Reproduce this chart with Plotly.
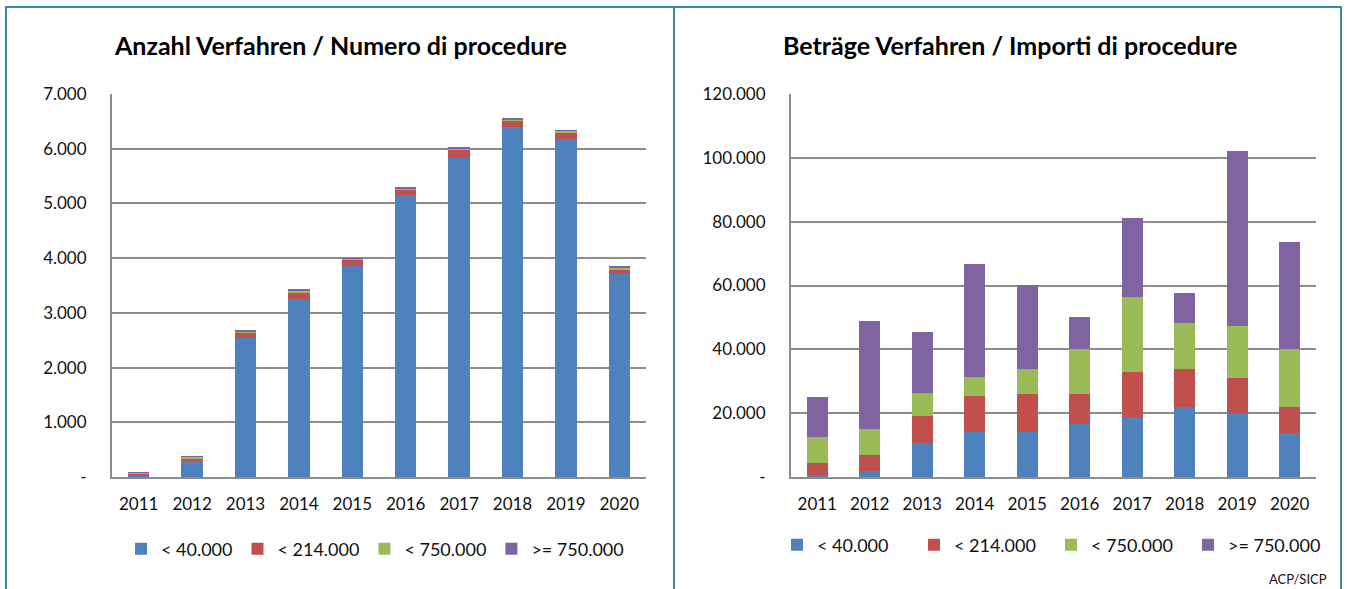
import plotly.graph_objects as go

years = ["2011", "2012", "2013", "2014", "2015", "2016", "2017", "2018", "2019", "2020"]
series_names = ["< 40.000", "< 214.000", "< 750.000", ">= 750.000"]
colors = ["#4F81BD", "#C0504D", "#9BBB59", "#8064A2"]

# Anzahl Verfahren / Numero di procedure
count_lt40k = [15, 288, 2546, 3260, 3857, 5148, 5834, 6404, 6184, 3706]
count_lt214k = [45, 48, 96, 117, 117, 102, 137, 109, 103, 89]
count_lt750k = [25, 34, 21, 27, 20, 28, 41, 28, 41, 28]
count_ge750k = [5, 10, 10, 20, 7, 14, 21, 14, 14, 20]

# Beträge Verfahren / Importi di procedure
amt_lt40k = [500, 1900, 10500, 14100, 14100, 16500, 18900, 21800, 20000, 13900]
amt_lt214k = [3800, 4900, 8500, 11200, 11800, 9600, 14100, 12000, 10900, 8100]
amt_lt750k = [8100, 8200, 7200, 6000, 8000, 14100, 23300, 14500, 16500, 18000]
amt_ge750k = [12800, 33800, 19100, 35300, 26200, 10000, 24700, 9500, 54800, 33500]

left_ticks = [0, 1000, 2000, 3000, 4000, 5000, 6000, 7000]
left_ticktext = ["-", "1.000", "2.000", "3.000", "4.000", "5.000", "6.000", "7.000"]
right_ticks = [0, 20000, 40000, 60000, 80000, 100000, 120000]
right_ticktext = ["-", "20.000", "40.000", "60.000", "80.000", "100.000", "120.000"]

W, H = 1347, 589
FONT = "Lato"
GRID = "#8C8C8C"
BORDER = "#3A87A0"

fig = go.Figure()
left = [count_lt40k, count_lt214k, count_lt750k, count_ge750k]
right = [amt_lt40k, amt_lt214k, amt_lt750k, amt_ge750k]
for i, name in enumerate(series_names):
    fig.add_trace(go.Bar(x=years, y=left[i], name=name, marker_color=colors[i],
                         marker_line_width=0, xaxis="x", yaxis="y", legend="legend"))
for i, name in enumerate(series_names):
    fig.add_trace(go.Bar(x=years, y=right[i], name=name, marker_color=colors[i],
                         marker_line_width=0, xaxis="x2", yaxis="y2", legend="legend2"))

def px(x):
    return x / W

def py(y):
    return 1 - y / H

ydom = [py(477), py(94)]
axis_common = dict(showline=True, linecolor=GRID, linewidth=2, ticks="", automargin=False,
                   tickfont=dict(family=FONT, size=17, color="#111111"))

fig.update_layout(
    width=W, height=H,
    margin=dict(l=0, r=0, t=0, b=0, autoexpand=False),
    paper_bgcolor="white", plot_bgcolor="white",
    barmode="stack", bargap=0.6,
    font=dict(family=FONT, color="#111111"),
    xaxis=dict(domain=[px(112), px(646)], anchor="y", ticklabelstandoff=11, **axis_common),
    yaxis=dict(domain=ydom, anchor="x", range=[0, 7000], tickvals=left_ticks,
               ticktext=left_ticktext, showgrid=True, gridcolor=GRID, gridwidth=2,
               ticklabelstandoff=20, zeroline=False, **axis_common),
    xaxis2=dict(domain=[px(791), px(1316)], anchor="y2", ticklabelstandoff=11, **axis_common),
    yaxis2=dict(domain=ydom, anchor="x2", range=[0, 120000], tickvals=right_ticks,
                ticktext=right_ticktext, showgrid=True, gridcolor=GRID, gridwidth=2,
                ticklabelstandoff=20, zeroline=False, **axis_common),
    legend=dict(orientation="h", x=px(121), y=py(549), xanchor="left", yanchor="middle",
                font=dict(family=FONT, size=18), itemwidth=30,
                traceorder="normal", bgcolor="rgba(0,0,0,0)"),
    legend2=dict(orientation="h", x=px(777), y=py(545), xanchor="left", yanchor="middle",
                 font=dict(family=FONT, size=18), itemwidth=30, entrywidth=92,
                 traceorder="normal", bgcolor="rgba(0,0,0,0)"),
    showlegend=True,
)

fig.add_annotation(text="<b>Anzahl Verfahren / Numero di procedure</b>", x=px(340), y=py(45),
                   xref="paper", yref="paper", showarrow=False, xanchor="center", yanchor="middle",
                   font=dict(family=FONT, size=25, color="#000"))
fig.add_annotation(text="<b>Beträge Verfahren / Importi di procedure</b>", x=px(1010), y=py(45),
                   xref="paper", yref="paper", showarrow=False, xanchor="center", yanchor="middle",
                   font=dict(family=FONT, size=25, color="#000"))
fig.add_annotation(text="ACP/SICP", x=px(1329), y=py(579), xref="paper", yref="paper",
                   showarrow=False, xanchor="right", yanchor="middle",
                   font=dict(family=FONT, size=13, color="#111111"))

fig.add_shape(type="rect", xref="paper", yref="paper", x0=px(6), x1=px(674), y0=py(600), y1=py(7),
              line=dict(color=BORDER, width=2), layer="above")
fig.add_shape(type="rect", xref="paper", yref="paper", x0=px(674), x1=px(1341), y0=py(600), y1=py(7),
              line=dict(color=BORDER, width=2), layer="above")

fig.write_html("out.html", config={"displayModeBar": False},
               post_script="document.body.style.margin='0';")
